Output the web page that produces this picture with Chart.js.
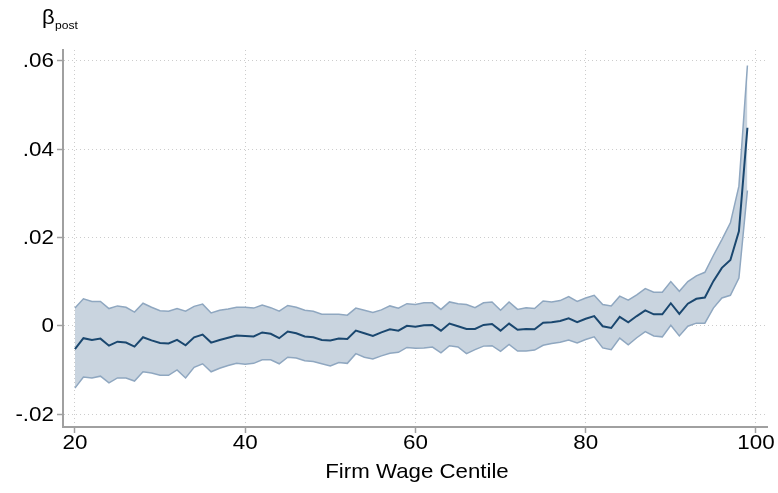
<!DOCTYPE html>
<html>
<head>
<meta charset="utf-8">
<script src="https://cdn.jsdelivr.net/npm/chart.js@4"></script>
<style>
  html, body { margin: 0; padding: 0; background: #fff; }
  #wrap { width: 778px; height: 493px; position: relative; }
</style>
</head>
<body>
<div id="wrap"><canvas id="chart_beta"></canvas></div>
<script>
// firm wage centiles 20..99
var centiles = [20,21,22,23,24,25,26,27,28,29,30,31,32,33,34,35,36,37,38,39,
	40,41,42,43,44,45,46,47,48,49,50,51,52,53,54,55,56,57,58,59,
	60,61,62,63,64,65,66,67,68,69,70,71,72,73,74,75,76,77,78,79,
	80,81,82,83,84,85,86,87,88,89,90,91,92,93,94,95,96,97,98,99]

var beta_post = [-0.0053,-0.0028,-0.0032,-0.0029,-0.0045,-0.0036,-0.0038,-0.0047,-0.0026,-0.0033,
	-0.0039,-0.0040,-0.0032,-0.0044,-0.0026,-0.0020,-0.0038,-0.0032,-0.0027,-0.0022,
	-0.0023,-0.0024,-0.0015,-0.0018,-0.0028,-0.0013,-0.0017,-0.0024,-0.0026,-0.0032,
	-0.0033,-0.0029,-0.0030,-0.0011,-0.0017,-0.0023,-0.0015,-0.0008,-0.0011,0.0000,
	-0.0002,0.0001,0.0002,-0.0011,0.0005,-0.0001,-0.0007,-0.0007,0.0002,0.0004,
	-0.0011,0.0005,-0.0009,-0.0007,-0.0008,0.0007,0.0008,0.0011,0.0017,0.0008,
	0.0016,0.0022,-0.0001,-0.0005,0.0020,0.0008,0.0022,0.0035,0.0026,0.0026,
	0.0051,0.0027,0.0050,0.0061,0.0064,0.0101,0.0131,0.0149,0.0214,0.0448]

var ci_upper = [0.0040,0.0061,0.0055,0.0055,0.0039,0.0045,0.0042,0.0031,0.0051,0.0042,
	0.0034,0.0033,0.0039,0.0033,0.0044,0.0049,0.0029,0.0035,0.0038,0.0042,
	0.0042,0.0040,0.0047,0.0041,0.0033,0.0046,0.0042,0.0035,0.0033,0.0026,
	0.0026,0.0026,0.0024,0.0040,0.0035,0.0030,0.0036,0.0045,0.0040,0.0050,
	0.0048,0.0052,0.0052,0.0037,0.0054,0.0050,0.0048,0.0041,0.0052,0.0054,
	0.0035,0.0054,0.0037,0.0041,0.0039,0.0056,0.0054,0.0057,0.0066,0.0055,
	0.0063,0.0069,0.0048,0.0045,0.0067,0.0058,0.0070,0.0084,0.0076,0.0076,
	0.0100,0.0078,0.0100,0.0113,0.0121,0.0159,0.0195,0.0233,0.0316,0.0589]

var ci_lower = [-0.0141,-0.0116,-0.0118,-0.0114,-0.0129,-0.0118,-0.0118,-0.0125,-0.0104,-0.0107,
	-0.0112,-0.0112,-0.0100,-0.0118,-0.0094,-0.0086,-0.0104,-0.0096,-0.0090,-0.0085,
	-0.0087,-0.0085,-0.0077,-0.0077,-0.0086,-0.0071,-0.0073,-0.0079,-0.0081,-0.0086,
	-0.0091,-0.0083,-0.0085,-0.0063,-0.0071,-0.0075,-0.0068,-0.0062,-0.0060,-0.0049,
	-0.0051,-0.0050,-0.0048,-0.0061,-0.0045,-0.0048,-0.0063,-0.0054,-0.0046,-0.0045,
	-0.0058,-0.0042,-0.0057,-0.0057,-0.0055,-0.0044,-0.0040,-0.0037,-0.0032,-0.0039,
	-0.0031,-0.0025,-0.0050,-0.0054,-0.0028,-0.0043,-0.0027,-0.0013,-0.0023,-0.0025,
	0.0001,-0.0023,-0.0001,0.0006,0.0006,0.0040,0.0063,0.0069,0.0108,0.0306]

var x_ticks = [20, 40, 60, 80, 100]
var x_tick_labels = ["20", "40", "60", "80", "100"]
var y_ticks = [-0.02, 0, 0.02, 0.04, 0.06]
var y_tick_labels = ["-.02", "0", ".02", ".04", ".06"]
var x_title = "Firm Wage Centile"
var y_title = "β"
var y_title_sub = "post"

function pts(vals){
	var out = []
	for (var i = 0; i < centiles.length; i++) out.push({x: centiles[i], y: vals[i]})
	return out
}

var FONT = '"Liberation Sans", Arial, sans-serif'

// stata style text is a bit wide, so labels are drawn stretched
function wideText(ctx, txt, x, y, size, align, stretch){
	ctx.save()
	ctx.font = size + "px " + FONT
	ctx.textBaseline = "middle"
	var w = ctx.measureText(txt).width * stretch
	var left = x
	if (align == "right") left = x - w
	if (align == "center") left = x - w / 2
	ctx.translate(left, y)
	ctx.scale(stretch, 1)
	ctx.textAlign = "left"
	ctx.fillStyle = "#000"
	ctx.fillText(txt, 0, 0)
	ctx.restore()
}

var labelsPlugin = {
	id: "stataLabels",
	afterDraw: function(chart){
		var ctx = chart.ctx
		var xs = chart.scales.x, ys = chart.scales.y
		var area = chart.chartArea
		for (var i = 0; i < y_ticks.length; i++) {
			wideText(ctx, y_tick_labels[i], 54, ys.getPixelForValue(y_ticks[i]) + 1, 20, "right", 1.12)
		}
		for (var j = 0; j < x_ticks.length; j++) {
			wideText(ctx, x_tick_labels[j], xs.getPixelForValue(x_ticks[j]), 443, 20, "center", 1.12)
		}
		wideText(ctx, x_title, (area.left + area.right) / 2 + 2, 472, 21, "center", 1.06)
		wideText(ctx, y_title, 42, 18, 21, "left", 1.05)
		wideText(ctx, y_title_sub, 55, 26, 11, "left", 1.1)
	}
}

var ctx = document.getElementById("chart_beta")
var myChart = new Chart(ctx, {
	type: "line",
	data: {
		datasets: [{
			label: "upper",
			data: pts(ci_upper),
			borderColor: "#8fa7c0",
			borderWidth: 1.5,
			backgroundColor: "#c9d4df",
			fill: "+1",
			pointRadius: 0,
			tension: 0,
			order: 2
		}, {
			label: "lower",
			data: pts(ci_lower),
			borderColor: "#8fa7c0",
			borderWidth: 1.5,
			fill: false,
			pointRadius: 0,
			tension: 0,
			order: 1
		}, {
			label: "beta",
			data: pts(beta_post),
			borderColor: "#1a476f",
			borderWidth: 2,
			fill: false,
			pointRadius: 0,
			tension: 0,
			order: 0
		}]
	},
	options: {
		responsive: true,
		maintainAspectRatio: false,
		animation: false,
		layout: { padding: { left: 0, top: 50, right: 11, bottom: 0 } },
		plugins: {
			legend: { display: false },
			tooltip: { enabled: false }
		},
		scales: {
			x: {
				type: "linear",
				min: 18.6,
				max: 101.3,
				afterBuildTicks: function(scale){ scale.ticks = x_ticks.map(function(v){ return {value: v} }) },
				afterFit: function(scale){ scale.height = 66 },
				ticks: { display: false },
				grid: { color: "#cccccc", lineWidth: 1, tickLength: 6, tickColor: "#a0a0a0", tickWidth: 1.5, tickBorderDash: [] },
				border: { display: true, color: "#a0a0a0", width: 2, dash: [1, 3] }
			},
			y: {
				min: -0.0229,
				max: 0.0624,
				afterBuildTicks: function(scale){ scale.ticks = y_ticks.map(function(v){ return {value: v} }) },
				afterFit: function(scale){ scale.width = 63 },
				ticks: { display: false },
				grid: { color: "#cccccc", lineWidth: 1, tickLength: 6, tickColor: "#a0a0a0", tickWidth: 1.5, tickBorderDash: [] },
				border: { display: true, color: "#a0a0a0", width: 2, dash: [1, 3] }
			}
		}
	},
	plugins: [labelsPlugin]
})
</script>
</body>
</html>
